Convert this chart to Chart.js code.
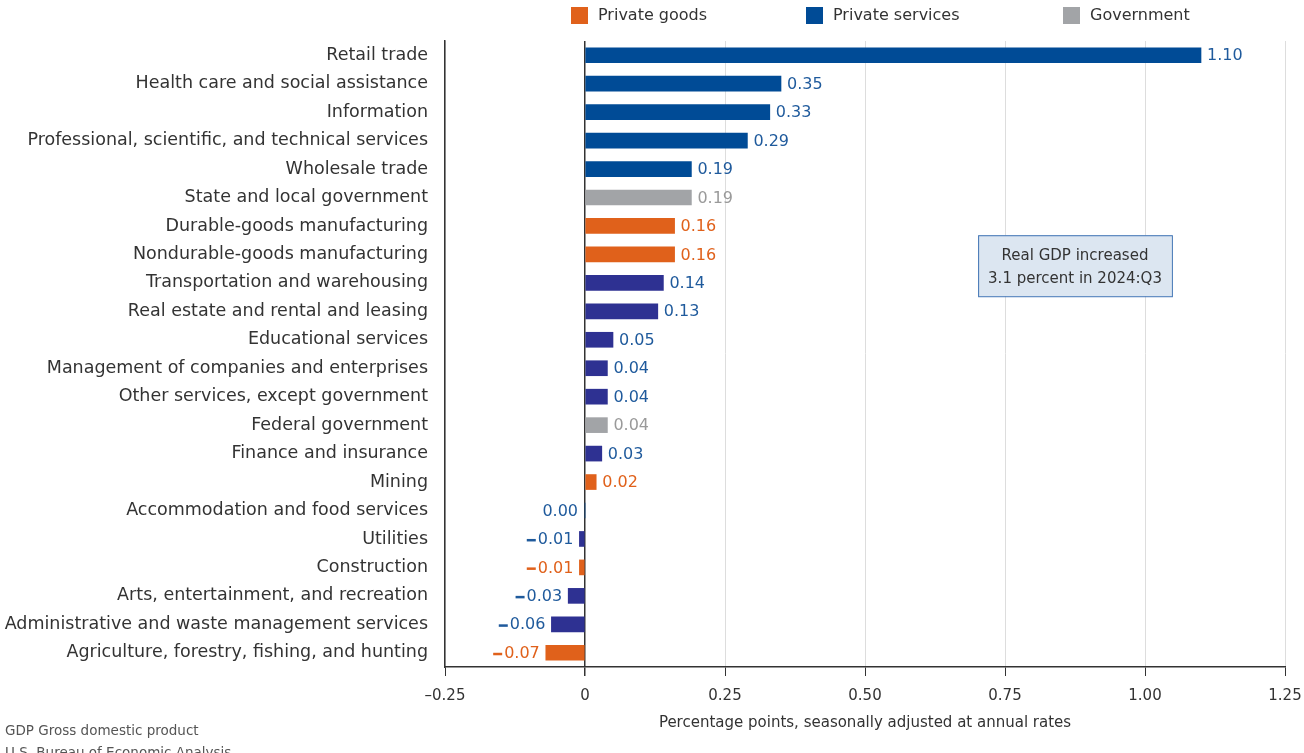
<!DOCTYPE html>
<html>
<head>
<meta charset="utf-8">
<script src="https://cdn.jsdelivr.net/npm/chart.js@4/dist/chart.umd.min.js"></script>
<style>
  html, body { margin: 0; padding: 0; background: #fff; }
  #wrap { width: 1304px; height: 753px; }
</style>
</head>
<body>
<div id="wrap"><canvas id="chart"></canvas></div>
<script>
// contributions to percent change in real GDP, by industry
const industries = [
  "Retail trade",
  "Health care and social assistance",
  "Information",
  "Professional, scientific, and technical services",
  "Wholesale trade",
  "State and local government",
  "Durable-goods manufacturing",
  "Nondurable-goods manufacturing",
  "Transportation and warehousing",
  "Real estate and rental and leasing",
  "Educational services",
  "Management of companies and enterprises",
  "Other services, except government",
  "Federal government",
  "Finance and insurance",
  "Mining",
  "Accommodation and food services",
  "Utilities",
  "Construction",
  "Arts, entertainment, and recreation",
  "Administrative and waste management services",
  "Agriculture, forestry, fishing, and hunting"
];
const contributions = [1.10, 0.35, 0.33, 0.29, 0.19, 0.19, 0.16, 0.16, 0.14, 0.13, 0.05,
  0.04, 0.04, 0.04, 0.03, 0.02, 0.00, -0.01, -0.01, -0.03, -0.06, -0.07];
const sectors = ["svc", "svc", "svc", "svc", "svc", "gov", "goods", "goods", "svc2", "svc2", "svc2",
  "svc2", "svc2", "gov", "svc2", "goods", "svc", "svc2", "goods", "svc2", "svc2", "goods"];
const xTicks = [-0.25, 0, 0.25, 0.5, 0.75, 1.0, 1.25];
const legendNames = ["Private goods", "Private services", "Government"];

const barColors = { goods: "#E0611B", svc: "#004B96", svc2: "#2E3192", gov: "#A2A4A7" };
const labelColors = { goods: "#E0611B", svc: "#1F5A9C", svc2: "#1F5A9C", gov: "#9A9A9A" };
const legendColors = [barColors.goods, barColors.svc, barColors.gov];

const FONT = "'DejaVu Sans', sans-serif";
const TEXT = "#333333";

function fmt(v) {
  if (v === 0) return "0";
  const s = Math.abs(v).toFixed(2);
  return v < 0 ? "\u2013" + s : s;
}

// value labels, legend, note box and footer
const extras = {
  id: "extras",
  afterDatasetsDraw(chart) {
    const { ctx, scales } = chart;
    const meta = chart.getDatasetMeta(0);
    ctx.save();
    ctx.font = "16px " + FONT;
    ctx.textBaseline = "middle";
    meta.data.forEach((bar, i) => {
      const v = contributions[i];
      ctx.fillStyle = labelColors[sectors[i]];
      const txt = Math.abs(v).toFixed(2);
      if (v > 0) {
        ctx.textAlign = "left";
        ctx.fillText(txt, bar.x + 6, bar.y + 1);
      } else if (v === 0) {
        ctx.textAlign = "right";
        ctx.fillText(txt, bar.x - 7, bar.y + 1);
      } else {
        // short bold dash in front of negatives
        ctx.textAlign = "right";
        const w = ctx.measureText(txt).width;
        const right = bar.x - 6;
        ctx.fillText(txt, right, bar.y + 1);
        ctx.fillRect(right - w - 11, bar.y, 9, 2.5);
      }
    });

    // legend
    ctx.textAlign = "left";
    const lx = [571, 806, 1063];
    legendNames.forEach((name, i) => {
      ctx.fillStyle = legendColors[i];
      ctx.fillRect(lx[i], 7, 17, 17);
      ctx.fillStyle = TEXT;
      ctx.fillText(name, lx[i] + 27, 16);
    });

    // note box
    const bx0 = scales.x.getPixelForValue(0.702);
    const bx1 = scales.x.getPixelForValue(1.048);
    const by = scales.y.getPixelForValue(7.38);
    ctx.fillStyle = "#DCE6F1";
    ctx.fillRect(bx0, by - 30, bx1 - bx0, 61);
    ctx.strokeStyle = "#3F73B4";
    ctx.lineWidth = 1;
    ctx.strokeRect(bx0 + 0.5, by - 30 + 0.5, bx1 - bx0, 61);
    ctx.fillStyle = TEXT;
    ctx.textAlign = "center";
    ctx.font = "15px " + FONT;
    ctx.fillText("Real GDP increased", (bx0 + bx1) / 2, by - 9);
    ctx.fillText("3.1 percent in 2024:Q3", (bx0 + bx1) / 2, by + 14);

    // footer
    ctx.textAlign = "left";
    ctx.textBaseline = "alphabetic";
    ctx.fillStyle = "#555555";
    ctx.font = "13.5px " + FONT;
    ctx.fillText("GDP Gross domestic product", 5, 735);
    ctx.fillText("U.S. Bureau of Economic Analysis", 5, 757);
    ctx.restore();
  }
};

new Chart(document.getElementById("chart"), {
  type: "bar",
  data: {
    labels: industries,
    datasets: [{
      data: contributions,
      backgroundColor: sectors.map(s => barColors[s]),
      barThickness: 15,
      borderWidth: 0
    }]
  },
  options: {
    indexAxis: "y",
    responsive: true,
    maintainAspectRatio: false,
    animation: false,
    layout: { padding: { top: 41, right: 19, bottom: 0, left: 0 } },
    plugins: { legend: { display: false }, tooltip: { enabled: false } },
    scales: {
      x: {
        type: "linear",
        min: -0.25,
        max: 1.25,
        afterBuildTicks: s => { s.ticks = xTicks.map(v => ({ value: v })); },
        afterFit: s => {
          s.height = 86;
          s.paddingLeft = 0;
          s.paddingRight = 0;
        },
        ticks: {
          callback: v => fmt(v),
          font: { family: FONT, size: 15 },
          color: TEXT,
          padding: 11,
          maxRotation: 0
        },
        grid: {
          color: c => (c.tick && c.tick.value === 0 ? "#333333" : "#DDDDDD"),
          lineWidth: c => (c.tick && c.tick.value === 0 ? 1.5 : 1),
          tickColor: "#333333",
          tickLength: 9
        },
        border: { color: "#333333", width: 1.5 },
        title: {
          display: true,
          text: "Percentage points, seasonally adjusted at annual rates",
          font: { family: FONT, size: 15 },
          color: TEXT,
          padding: { top: 0, bottom: 21 }
        }
      },
      y: {
        afterFit: s => { s.width = 445; },
        ticks: {
          font: { family: FONT, size: 17.5 },
          color: TEXT,
          padding: 17,
          autoSkip: false
        },
        grid: { display: false, drawTicks: false },
        border: { color: "#333333", width: 1.5 }
      }
    }
  },
  plugins: [extras]
});
</script>
</body>
</html>
